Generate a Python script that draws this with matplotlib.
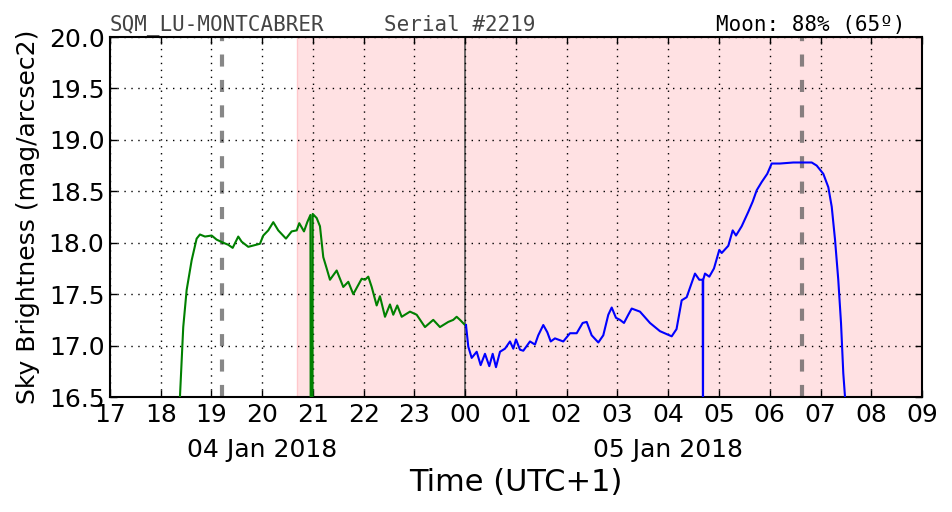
import numpy as np
import matplotlib.pyplot as plt

# hours since 00:00 of 04 Jan 2018 (UTC+1)
green_t = [18.30, 18.379, 18.444, 18.511, 18.610, 18.708, 18.773, 18.872, 19.004, 19.102,
           19.232, 19.331, 19.418, 19.528, 19.595, 19.725, 19.956, 20.021, 20.119, 20.218,
           20.316, 20.468, 20.580, 20.679, 20.730, 20.823, 20.888, 20.950, 20.955, 20.990,
           20.995, 21.073, 21.138, 21.203, 21.270, 21.335, 21.467, 21.597, 21.696, 21.794,
           21.960, 22.025, 22.090, 22.157, 22.255, 22.320, 22.419, 22.517, 22.582, 22.661,
           22.748, 22.911, 23.043, 23.207, 23.370, 23.502, 23.666, 23.764, 23.831, 23.897,
           23.995, 24.015]
green_v = [16.00, 16.50, 17.18, 17.54, 17.83, 18.04, 18.08, 18.06, 18.07, 18.03,
           18.00, 17.98, 17.95, 18.06, 18.01, 17.96, 17.99, 18.07, 18.12, 18.20,
           18.12, 18.04, 18.11, 18.12, 18.19, 18.11, 18.20, 18.27, 16.00, 16.00,
           18.28, 18.24, 18.16, 17.86, 17.75, 17.64, 17.73, 17.57, 17.62, 17.50,
           17.65, 17.64, 17.67, 17.57, 17.39, 17.48, 17.28, 17.40, 17.30, 17.39,
           17.28, 17.33, 17.30, 17.18, 17.25, 17.18, 17.23, 17.25, 17.28, 17.25,
           17.20, 17.20]

blue_t = [24.015, 24.060, 24.127, 24.226, 24.304, 24.389, 24.474, 24.541, 24.606, 24.685,
          24.783, 24.882, 24.947, 25.000, 25.079, 25.144, 25.276, 25.374, 25.439, 25.538,
          25.617, 25.684, 25.768, 25.932, 26.064, 26.196, 26.314, 26.393, 26.491, 26.622,
          26.720, 26.819, 26.886, 26.970, 27.049, 27.128, 27.213, 27.280, 27.443, 27.640,
          27.837, 28.068, 28.163, 28.265, 28.363, 28.462, 28.527, 28.612, 28.679, 28.684,
          28.689, 28.724, 28.809, 28.901, 29.006, 29.053, 29.183, 29.270, 29.335, 29.447,
          29.577, 29.664, 29.743, 29.841, 29.951, 30.038, 30.103, 30.202, 30.464, 30.827,
          30.925, 31.055, 31.154, 31.221, 31.286, 31.350, 31.404, 31.449, 31.483, 31.55]
blue_v = [17.20, 16.99, 16.88, 16.94, 16.81, 16.92, 16.80, 16.92, 16.79, 16.94,
          16.97, 17.04, 16.97, 17.06, 16.96, 16.95, 17.04, 17.01, 17.10, 17.20,
          17.13, 17.04, 17.07, 17.04, 17.12, 17.12, 17.22, 17.23, 17.10, 17.03,
          17.10, 17.30, 17.37, 17.27, 17.25, 17.22, 17.30, 17.36, 17.33, 17.22,
          17.14, 17.09, 17.16, 17.44, 17.47, 17.61, 17.70, 17.64, 17.64, 16.00,
          17.64, 17.70, 17.67, 17.75, 17.93, 17.90, 17.97, 18.12, 18.07, 18.16,
          18.30, 18.40, 18.51, 18.59, 18.67, 18.77, 18.77, 18.77, 18.78, 18.78,
          18.75, 18.67, 18.54, 18.35, 18.03, 17.64, 17.22, 16.73, 16.50, 16.00]

night_start = 20.685
moon_lines = [19.207, 30.636]
midnight = 24.0
hours = np.arange(17, 34)
date_labels = ['04 Jan 2018', '05 Jan 2018']
date_pos = [20, 28]

fig = plt.figure(figsize=(9.52, 5.12), dpi=100)
ax = fig.add_axes([0.1155, 0.2246, 0.853, 0.7031])

ax.axvspan(night_start, 33, facecolor='#ffe1e3', edgecolor='#ffc8cc', lw=1, zorder=0)
for m in moon_lines:
    ax.axvline(m, color='#555555', alpha=0.7, lw=3, ls=(0, (2.9, 3.2)), zorder=1)
ax.axvline(midnight, color='#555555', lw=1.2, zorder=1)

ax.plot(green_t, green_v, color='green', lw=1.5, zorder=3)
ax.plot(blue_t, blue_v, color='blue', lw=1.5, zorder=3)

ax.set_xlim(17, 33)
ax.set_ylim(16.5, 20.0)
ax.set_xticks(hours)
ax.set_xticklabels(['%02d' % (h % 24) for h in hours])
ax.set_yticks(np.arange(16.5, 20.01, 0.5))
ax.set_yticklabels(['%.1f' % v for v in np.arange(16.5, 20.01, 0.5)])
ax.tick_params(direction='in', top=True, right=True, labelsize=18, length=5, width=1, pad=4)
ax.grid(True, color='black', ls=(0, (1, 4)), lw=1)
for s in ax.spines.values():
    s.set_linewidth(1.5)

for lbl, p in zip(date_labels, date_pos):
    ax.annotate(lbl, xy=(p, 0), xycoords=('data', 'axes fraction'), xytext=(0, -47),
                textcoords='offset points', ha='center', va='bottom', fontsize=18)

ax.set_xlabel('Time (UTC+1)', fontsize=22, labelpad=30)
ax.set_ylabel('Sky Brightness (mag/arcsec2)', fontsize=18, labelpad=6)

ax.text(0, 1.005, 'SQM_LU-MONTCABRER', transform=ax.transAxes, family='DejaVu Sans Mono',
        fontsize=15, color='#444444', ha='left', va='bottom')
ax.text(0.338, 1.005, 'Serial #2219', transform=ax.transAxes, family='DejaVu Sans Mono',
        fontsize=15, color='#444444', ha='left', va='bottom')
ax.text(0.979, 1.005, 'Moon: 88% (65º)', transform=ax.transAxes, family='DejaVu Sans Mono',
        fontsize=15, color='black', ha='right', va='bottom')

fig.savefig('out.png', dpi=100)
